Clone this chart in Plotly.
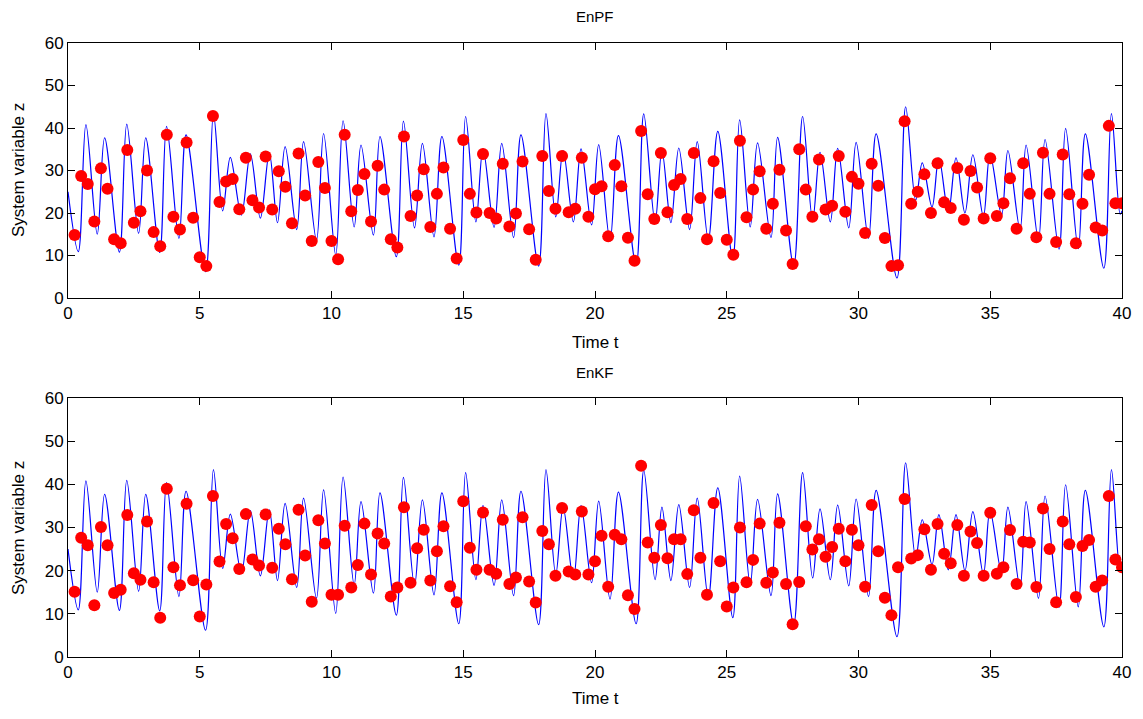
import plotly.graph_objects as go

# Truth trajectory (peaks / troughs), shared by both panels
truth_t = [0.0, 0.39, 0.68, 1.11, 1.39, 1.95, 2.23, 2.68, 2.95, 3.48, 3.74, 4.21, 4.48, 5.22, 5.52,
           5.87, 6.16, 6.58, 6.92, 7.30, 7.64, 7.95, 8.24, 8.68, 8.94, 9.43, 9.70, 10.16, 10.44,
           10.86, 11.12, 11.59, 11.84, 12.46, 12.73, 13.15, 13.45, 13.89, 14.19, 14.83, 15.09,
           15.48, 15.75, 16.17, 16.46, 16.91, 17.19, 17.86, 18.14, 18.51, 18.79, 19.18, 19.47,
           19.87, 20.14, 20.57, 20.89, 21.56, 21.85, 22.28, 22.54, 22.88, 23.18, 23.59, 23.88,
           24.30, 24.66, 25.23, 25.49, 25.89, 26.17, 26.68, 26.93, 27.54, 27.88, 28.26, 28.54,
           28.93, 29.21, 29.63, 29.91, 30.38, 30.67, 31.46, 31.79, 32.17, 32.42, 32.79, 33.05,
           33.41, 33.70, 34.04, 34.34, 34.74, 34.99, 35.43, 35.67, 36.13, 36.36, 36.83, 37.08,
           37.61, 37.86, 38.34, 38.61, 39.31, 39.60, 39.93, 40.0]
truth_z = [25, 10.9, 40.8, 15.0, 37.7, 10.8, 40.9, 15.2, 37.7, 10.7, 40.4, 14.0, 38.4, 6.2, 43.4,
           20.5, 33.1, 19.5, 33.9, 18.8, 34.1, 17.7, 35.6, 16.1, 36.8, 13.6, 38.7, 10.1, 41.7,
           16.7, 36.0, 14.8, 38.0, 9.7, 41.6, 16.5, 36.4, 14.4, 38.0, 7.7, 42.7,
           17.9, 35.1, 16.6, 36.4, 14.2, 38.4, 7.5, 43.4, 19.1, 34.7, 17.9, 35.1,
           17.2, 36.1, 13.4, 38.2, 7.7, 43.3, 17.9, 34.7, 17.7, 35.3, 16.1, 36.8,
           13.75, 39.2, 9.1, 41.9, 16.7, 36.5, 14.2, 37.8, 7.5, 42.7, 18.3, 34.3,
           17.9, 35.2, 16.5, 36.6, 14.0, 38.6, 4.7, 45.0, 23.0, 31.8, 21.4, 33.0,
           20.2, 33.0, 20.0, 33.7, 19.2, 33.9, 19.5, 34.7, 16.1, 36.0, 13.6, 37.3,
           11.5, 39.9, 11.6, 38.6, 7.0, 43.4, 19.7, 20.5]

# Observation / estimate times (every 0.25)
obs_t = [0.25 * (k + 1) for k in range(160)]

enpf_z = [14.8, 28.7, 26.8, 18.0, 30.5, 25.7, 13.8, 12.9, 34.8, 17.7, 20.4, 30.0, 15.5, 12.2, 38.4,
          19.1, 16.1, 36.6, 18.9, 9.6, 7.5, 42.8, 22.6, 27.4, 28.0, 20.9, 33.0, 23.0, 21.3, 33.3,
          20.8, 29.8, 26.2, 17.6, 34.0, 24.1, 13.4, 32.0, 25.9, 13.4, 9.1, 38.4, 20.4, 25.4, 29.2,
          18.0, 31.1, 25.5, 13.8, 11.9, 38.0, 19.3, 24.1, 30.3, 16.7, 24.5, 30.7, 16.3, 9.3, 37.2,
          24.5, 20.1, 33.9, 20.0, 18.7, 31.6, 16.8, 19.9, 32.1, 16.2, 9.0, 33.4, 25.2, 21.0, 33.4,
          20.2, 21.0, 33.0, 19.1, 25.6, 26.3, 14.5, 31.3, 26.3, 14.2, 8.75, 39.3, 24.4, 18.6, 34.1,
          20.2, 26.6, 28.0, 18.6, 34.1, 23.5, 13.8, 32.2, 24.7, 13.7, 10.2, 37.0, 19.0, 25.5, 29.8,
          16.3, 22.2, 30.2, 15.9, 8.0, 35.0, 25.5, 19.1, 32.6, 20.8, 21.7, 33.4, 20.3, 28.5, 26.9,
          15.3, 31.6, 26.4, 14.1, 7.5, 7.7, 41.6, 22.2, 25.0, 29.1, 20.0, 31.7, 22.5, 21.2, 30.6,
          18.4, 29.9, 26.0, 18.7, 32.9, 19.3, 22.3, 28.2, 16.3, 31.7, 24.5, 14.3, 34.2, 24.5, 13.2,
          33.75, 24.4, 12.9, 22.2, 29.0, 16.6, 15.9, 40.5, 22.3, 22.3]

enkf_z = [15.1, 27.6, 25.9, 12.0, 30.1, 25.9, 14.8, 15.6, 32.9, 19.4, 17.9, 31.4, 17.3, 9.1, 39.0,
          20.8, 16.6, 35.5, 17.8, 9.4, 16.8, 37.3, 22.1, 30.8, 27.5, 20.4, 33.1, 22.6, 21.2, 33.0,
          20.7, 29.7, 26.1, 18.0, 34.1, 23.5, 12.8, 31.7, 26.3, 14.4, 14.4, 30.4, 16.1, 21.3, 30.9,
          19.1, 28.6, 26.3, 14.0, 16.1, 34.7, 17.2, 25.2, 29.5, 17.7, 24.5, 30.3, 16.4, 12.7, 36.1,
          25.3, 20.2, 33.5, 20.2, 19.3, 31.8, 16.9, 18.4, 32.4, 17.5, 12.6, 29.2, 26.1, 18.8, 34.5,
          19.8, 19.1, 33.7, 19.1, 22.2, 28.1, 16.3, 28.3, 27.3, 14.3, 11.1, 44.3, 26.5, 23.0, 30.6,
          22.9, 27.3, 27.3, 19.2, 34.0, 23.0, 14.4, 35.7, 22.2, 11.7, 16.1, 30.0, 17.3, 22.5, 30.9,
          17.2, 19.6, 31.1, 16.9, 7.6, 17.4, 30.3, 24.9, 27.3, 23.2, 25.5, 29.7, 22.2, 29.5, 25.9,
          16.3, 35.2, 24.5, 13.7, 9.7, 20.8, 36.6, 22.8, 23.6, 29.6, 20.2, 30.8, 23.9, 21.7, 30.6,
          18.8, 29.1, 26.4, 18.8, 33.4, 19.3, 20.8, 29.4, 16.9, 26.7, 26.5, 16.2, 34.4, 25.0, 12.7,
          31.4, 26.1, 13.9, 25.7, 27.1, 16.3, 17.7, 37.3, 22.6, 20.8]

panel_titles = ["EnPF", "EnKF"]
x_ticks = [0, 5, 10, 15, 20, 25, 30, 35, 40]
y_ticks = [0, 10, 20, 30, 40, 50, 60]

FONT = "Liberation Sans, Arial, Helvetica, sans-serif"

fig = go.Figure()
for i, dots in enumerate([enpf_z, enkf_z]):
    xa = "x" if i == 0 else "x2"
    ya = "y" if i == 0 else "y2"
    fig.add_trace(go.Scatter(x=truth_t, y=truth_z, mode="lines",
                             line=dict(color="#0000ff", width=1.2, shape="spline", smoothing=1.0),
                             xaxis=xa, yaxis=ya, showlegend=False, hoverinfo="skip"))
    fig.add_trace(go.Scatter(x=obs_t, y=dots, mode="markers",
                             marker=dict(color="#ff0000", size=12, line=dict(width=0)),
                             xaxis=xa, yaxis=ya, showlegend=False))

# page body adds an 8px offset; compensate so the plot lands where the reference has it
OFF = 8
W, H = 1127, 703
ml, mt = 68 - OFF, 43 - OFF
plot_right, plot_bottom = 1122 - OFF, 657 - OFF
mr, mb = W - plot_right, H - plot_bottom
ph = H - mt - mb
top_dom = [1 - 255 / ph, 1.0]
bot_dom = [0.0, 259 / ph]

axis_common = dict(showgrid=False, zeroline=False, showline=True, linecolor="black", linewidth=1,
                   mirror="ticks", ticks="inside", ticklen=7, tickcolor="black", tickwidth=1,
                   automargin=False,
                   tickfont=dict(family=FONT, size=17, color="black"))

fig.update_layout(
    width=W, height=H, autosize=False,
    margin=dict(l=ml, r=mr, t=mt, b=mb, autoexpand=False),
    plot_bgcolor="white", paper_bgcolor="white",
    xaxis=dict(domain=[0, 1], anchor="y", range=[0, 40], tickvals=x_ticks, **axis_common),
    yaxis=dict(domain=top_dom, anchor="x", range=[0, 60], tickvals=y_ticks, **axis_common),
    xaxis2=dict(domain=[0, 1], anchor="y2", range=[0, 40], tickvals=x_ticks, **axis_common),
    yaxis2=dict(domain=bot_dom, anchor="x2", range=[0, 60], tickvals=y_ticks, **axis_common),
)

def py(pix):
    return (plot_bottom - (pix - OFF)) / ph

def px(pix):
    return ((pix - OFF) - ml) / (plot_right - ml)

ann = []
for title, ypix in zip(panel_titles, [17, 372]):
    ann.append(dict(text=title, x=0.5, y=py(ypix), xref="paper", yref="paper", showarrow=False,
                    xanchor="center", yanchor="middle",
                    font=dict(family=FONT, size=15, color="black")))
for ypix in [342, 698]:
    ann.append(dict(text="Time t", x=0.5, y=py(ypix), xref="paper", yref="paper", showarrow=False,
                    xanchor="center", yanchor="middle",
                    font=dict(family=FONT, size=17, color="black")))
for ypix in [170, 528]:
    ann.append(dict(text="System variable z", x=px(18), y=py(ypix), xref="paper", yref="paper",
                    showarrow=False, textangle=-90, xanchor="center", yanchor="middle",
                    font=dict(family=FONT, size=17, color="black")))
fig.update_layout(annotations=ann)

fig.write_html("out.html")
